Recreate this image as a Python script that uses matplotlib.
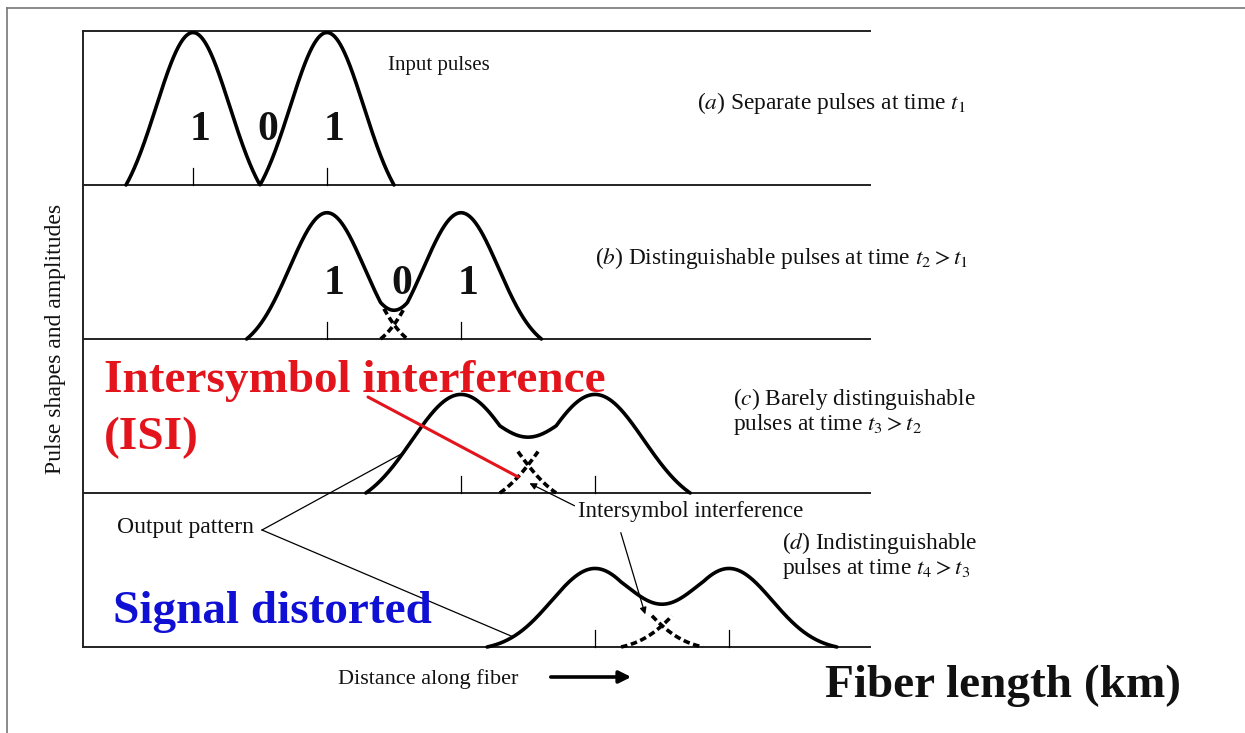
import matplotlib.pyplot as plt
import numpy as np

plt.rcParams['font.family'] = ['Liberation Serif', 'DejaVu Serif']
plt.rcParams['mathtext.fontset'] = 'stix'

# bit pattern sent down the fiber and how the pulses look in each snapshot
bits = [1, 0, 1]
panel_tags = ['a', 'b', 'c', 'd']
first_bit = [2, 4, 6, 8]            # position of first bit (in bit periods)
panel_base = [3, 2, 1, 0]           # baseline of each panel (panel heights)
amplitude = [0.99, 0.82, 0.64, 0.51]
sigma = [0.55, 0.56, 0.73, 0.65]    # pulse width (bit periods)
extent = [1.0, 1.2, 1.42, 1.61]     # where the pulse reaches zero

panel_text = [
    [r'($a$) Separate pulses at time $t_1$'],
    [r'($b$) Distinguishable pulses at time $t_2 > t_1$'],
    [r'($c$) Barely distinguishable', r'pulses at time $t_3 > t_2$'],
    [r'($d$) Indistinguishable', r'pulses at time $t_4 > t_3$'],
]

# pixel layout helpers (figure is 1245 x 733 px)
X0, BIT_PX, BASE_PX, PANEL_PX = 59, 67, 647, 154


def dx(xp):
    return (xp - X0) / BIT_PX


def dy(yp):
    return (BASE_PX - yp) / PANEL_PX


def pulse(x, c, A, s, E):
    d = np.abs(x - c)
    g = np.exp(-0.5 * (d / s) ** 2)
    gE = np.exp(-0.5 * (E / s) ** 2)
    return np.where(d < E, A * (g - gE) / (1 - gE), 0.0)


def total(x, k):
    cs = [first_bit[k] + i for i, b in enumerate(bits) if b == 1]
    return sum(pulse(x, c, amplitude[k], sigma[k], extent[k]) for c in cs)


fig = plt.figure(figsize=(12.45, 7.33), dpi=100)
ax = fig.add_axes([0, 0, 1, 1])
ax.set_xlim(dx(0), dx(1245))
ax.set_ylim(dy(733), dy(0))
ax.axis('off')

# outer border (top and left)
ax.plot([dx(7), dx(1245)], [dy(8), dy(8)], color='#777777', lw=1.2)
ax.plot([dx(7), dx(7)], [dy(8), dy(733)], color='#777777', lw=1.2)

# panel frame
x_left, x_right = dx(83), dx(870)
for yb in range(5):
    ax.plot([x_left, x_right], [yb, yb], color='#222222', lw=1.4)
ax.plot([x_left, x_left], [0, 4], color='#222222', lw=1.4)

dash = (0, (1.8, 1.0))
for k in range(4):
    base = panel_base[k]
    A, s, E = amplitude[k], sigma[k], extent[k]
    cs = [first_bit[k] + i for i, b in enumerate(bits) if b == 1]
    x = np.linspace(cs[0] - E, cs[-1] + E, 800)
    ax.plot(x, base + total(x, k), color='k', lw=2.6, solid_capstyle='round')
    for c in cs:
        ax.plot([c, c], [base, base + 0.11], color='k', lw=0.9)
    mid = first_bit[k] + 1
    if E > 1:
        x1 = np.linspace(mid - 0.15, cs[0] + E, 200)
        ax.plot(x1, base + pulse(x1, cs[0], A, s, E), color='k', lw=2.6, ls=dash)
        x2 = np.linspace(cs[1] - E, mid + 0.15, 200)
        ax.plot(x2, base + pulse(x2, cs[1], A, s, E), color='k', lw=2.6, ls=dash)
    if k < 2:
        for i, b in enumerate(bits):
            ax.text(first_bit[k] + i + 0.11, base + 0.36, str(b), fontsize=30,
                    fontweight='bold', ha='center', va='center', color='#111111')

# panel captions
caption_pos = [(697, [109]), (595, [264]), (733, [405, 430]), (782, [549, 574])]
for k, (xp, ys) in enumerate(caption_pos):
    for line, yp in zip(panel_text[k], ys):
        ax.text(dx(xp), dy(yp), line, fontsize=16.8, va='baseline', color='#111111')

ax.text(dx(388), dy(70), 'Input pulses', fontsize=15, va='baseline', color='#111111')
ax.text(dx(578), dy(517), 'Intersymbol interference', fontsize=16.5, va='baseline',
        color='#111111')
ax.text(dx(117), dy(533), 'Output pattern', fontsize=17, va='baseline', color='#111111')
ax.text(dx(55), dy(339), 'Pulse shapes and amplitudes', rotation=90, fontsize=17,
        ha='center', va='center', color='#111111')
ax.text(dx(338), dy(684), 'Distance along fiber', fontsize=16, va='baseline',
        color='#111111')
ax.annotate('', xy=(dx(634), dy(677)), xytext=(dx(548), dy(677)),
            arrowprops=dict(arrowstyle='-|>', lw=2.6, color='k', mutation_scale=18))

# output pattern leaders
xc, xd = dx(403), dx(513)
ax.plot([dx(262), xc], [dy(530), 1 + total(np.array([xc]), 2)[0]], color='k', lw=0.9)
ax.plot([dx(262), xd], [dy(530), 0 + total(np.array([xd]), 3)[0]], color='k', lw=0.9)

# intersymbol interference arrows
ax.annotate('', xy=(dx(527), dy(482)), xytext=(dx(577), dy(507)),
            arrowprops=dict(arrowstyle='-|>', lw=0.9, color='k', mutation_scale=10))
ax.annotate('', xy=(dx(646), dy(617)), xytext=(dx(620), dy(530)),
            arrowprops=dict(arrowstyle='-|>', lw=0.9, color='k', mutation_scale=10))

# big red / blue annotations
red, blue = '#e3141c', '#1010d4'
ax.text(dx(104), dy(392), 'Intersymbol interference', fontsize=34, fontweight='bold',
        color=red, va='baseline')
ax.text(dx(104), dy(449), '(ISI)', fontsize=34, fontweight='bold', color=red,
        va='baseline')
xr = dx(518)
ax.plot([dx(368), xr], [dy(397), 1 + pulse(xr, 8, amplitude[2], sigma[2], extent[2])],
        color=red, lw=2.2, solid_capstyle='round')
ax.text(dx(113), dy(623), 'Signal distorted', fontsize=34, fontweight='bold',
        color=blue, va='baseline')
ax.text(dx(825), dy(697), 'Fiber length (km)', fontsize=34, fontweight='bold',
        color='#111111', va='baseline')

fig.savefig('out.png', dpi=100)
